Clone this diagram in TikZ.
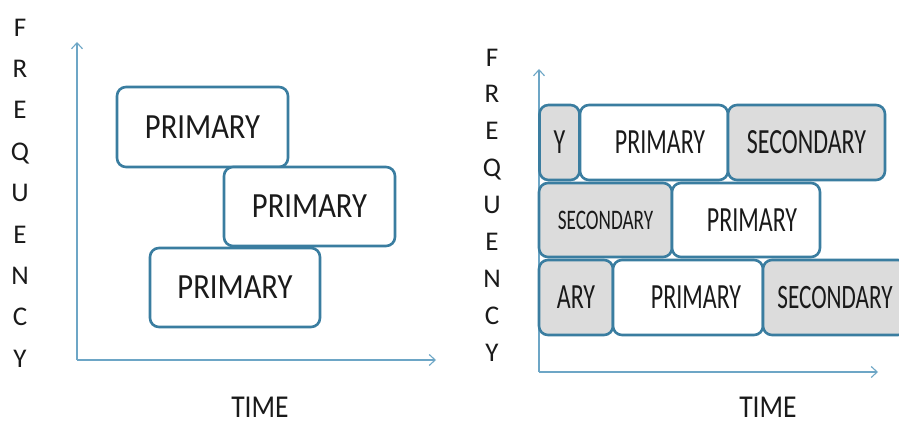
\documentclass[tikz,border=0pt]{standalone}
\usepackage{fontspec}
\usepackage{graphicx}
\setmainfont{Carlito}
\usetikzlibrary{arrows.meta}

\definecolor{boxline}{HTML}{3A7DA0}
\definecolor{axisline}{HTML}{6DA6C6}
\definecolor{slotgray}{HTML}{DCDCDC}
\definecolor{ink}{HTML}{1A1A1A}

% tall lettering, and its condensed form for the packed diagram
\newcommand{\tall}[1]{\scalebox{1.02}[1.18]{#1}}
\newcommand{\cond}[1]{\scalebox{0.8}[1.18]{#1}}

\tikzset{
  slot/.style={draw=boxline, line width=2.6pt, rounded corners=9pt,
    rectangle, inner sep=0pt, text=ink, font=\fontsize{30}{36}\selectfont},
  primslot/.style={slot, fill=white},
  secslot/.style={slot, fill=slotgray},
  axis/.style={draw=axisline, line width=1.4pt,
    -{Straight Barb[length=6pt,width=11pt,line width=1.1pt]}},
  axislabel/.style={text=ink, inner sep=0pt, font=\fontsize{27}{30}\selectfont},
  vertlabel/.style={text=ink, align=center, inner sep=0pt,
    font=\fontsize{27}{#1}\selectfont},
}

\begin{document}
\begin{tikzpicture}[x=1pt, y=-1pt]
  \useasboundingbox (0,0) rectangle (899,428);
  \fill[white] (0,0) rectangle (899,428);
  \clip (0,0) rectangle (899,428);

  % ---- left: spaced primary allocations ----
  \coordinate (lo) at (77,360);
  \coordinate (ly) at (77,42);
  \coordinate (lx) at (436,360);
  \draw[axis] (lo) -- (ly);
  \draw[axis] (lo) -- (lx);

  \node[vertlabel=41.4pt] (lfreq) at (20,193)
    {F\\R\\E\\Q\\U\\E\\N\\C\\Y};
  \node[axislabel] (ltime) at (260,407) {\tall{TIME}};

  \node[primslot, minimum width=171pt, minimum height=80pt] (lp1)
    at (202.5,127) {\tall{PRIMARY}};
  \node[primslot, minimum width=171pt, minimum height=79pt] (lp2)
    at (309.5,206.5) {\tall{PRIMARY}};
  \node[primslot, minimum width=170pt, minimum height=79pt] (lp3)
    at (235,287.5) {\tall{PRIMARY}};

  % ---- right: packed primary and secondary allocations ----
  \coordinate (ro) at (539,372);
  \coordinate (ry) at (539,69);
  \coordinate (rx) at (878,372);
  \draw[axis] (ro) -- (ry);
  \draw[axis] (ro) -- (rx);

  \node[vertlabel=36.9pt] (rfreq) at (492,205)
    {F\\R\\E\\Q\\U\\E\\N\\C\\Y};
  \node[axislabel] (rtime) at (768,407) {\tall{TIME}};

  % row 1
  \node[secslot, minimum width=40pt, minimum height=75pt] (r1a)
    at (559.5,142.5) {\cond{Y}};
  \node[primslot, minimum width=148pt, minimum height=75pt] (r1b)
    at (654,142.5) {\hspace*{12pt}\raisebox{-5pt}{\cond{PRIMARY}}};
  \node[secslot, minimum width=157pt, minimum height=75pt] (r1c)
    at (806.5,142.5) {\raisebox{-1pt}{\cond{SECONDARY}}};
  % row 2
  \node[secslot, minimum width=133pt, minimum height=74pt] (r2a)
    at (605.5,220) {\fontsize{24}{28}\selectfont\cond{SECONDARY}};
  \node[primslot, minimum width=148pt, minimum height=74pt] (r2b)
    at (746,220) {\hspace*{12pt}\raisebox{-4pt}{\cond{PRIMARY}}};
  % row 3
  \node[secslot, minimum width=74pt, minimum height=75pt] (r3a)
    at (576,297.5) {\cond{ARY}};
  \node[primslot, minimum width=150pt, minimum height=75pt] (r3b)
    at (688,297.5) {\hspace*{16pt}\raisebox{-4pt}{\cond{PRIMARY}}};
  \node[secslot, minimum width=144pt, minimum height=75pt] (r3c)
    at (835,297.5) {\fontsize{29}{34}\selectfont\cond{SECONDARY}};
\end{tikzpicture}
\end{document}
